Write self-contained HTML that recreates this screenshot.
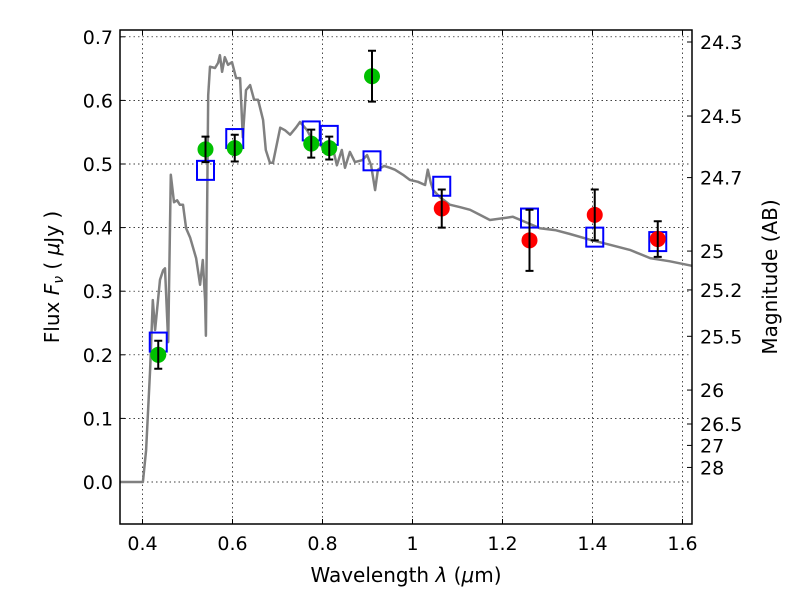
<!DOCTYPE html>
<html><head><meta charset="utf-8"><style>
body{margin:0;background:#fff}
svg{font-family:"DejaVu Sans","Liberation Sans",sans-serif}
</style></head><body>
<svg id="c" width="800" height="600" xmlns="http://www.w3.org/2000/svg"></svg>
<script>
const specLam=[0.35,0.401,0.408,0.417,0.423,0.428,0.439,0.446,0.450,0.457,0.463,0.470,0.477,0.483,0.490,0.497,0.506,0.519,0.528,0.534,0.539,0.541,0.546,0.550,0.561,0.568,0.572,0.577,0.583,0.590,0.599,0.608,0.617,0.623,0.630,0.639,0.648,0.657,0.668,0.674,0.683,0.690,0.706,0.717,0.728,0.741,0.750,0.766,0.777,0.794,0.808,0.823,0.832,0.843,0.850,0.861,0.872,0.888,0.899,0.908,0.917,0.923,0.937,0.950,0.961,0.979,0.994,1.012,1.028,1.034,1.041,1.046,1.061,1.083,1.106,1.128,1.150,1.172,1.223,1.250,1.283,1.317,1.350,1.394,1.439,1.483,1.528,1.572,1.621];
const specFlux=[0,0,0.05,0.176,0.286,0.239,0.318,0.333,0.336,0.220,0.483,0.440,0.443,0.436,0.436,0.399,0.384,0.352,0.310,0.349,0.286,0.230,0.608,0.653,0.651,0.659,0.671,0.645,0.668,0.656,0.660,0.635,0.635,0.542,0.616,0.624,0.601,0.601,0.569,0.522,0.502,0.502,0.557,0.553,0.546,0.557,0.566,0.553,0.538,0.530,0.522,0.525,0.498,0.522,0.494,0.519,0.503,0.506,0.514,0.498,0.459,0.491,0.497,0.494,0.491,0.483,0.475,0.472,0.467,0.491,0.470,0.459,0.448,0.436,0.432,0.428,0.420,0.412,0.417,0.409,0.399,0.396,0.390,0.381,0.373,0.365,0.352,0.347,0.340];
const greenLam=[0.435,0.54,0.605,0.775,0.815,0.91];
const greenFlux=[0.200,0.523,0.525,0.532,0.525,0.638];
const greenErr=[0.022,0.020,0.021,0.022,0.018,0.040];
const redLam=[1.065,1.26,1.405,1.545];
const redFlux=[0.430,0.380,0.420,0.382];
const redErr=[0.030,0.048,0.040,0.028];
const boxLam=[0.435,0.54,0.605,0.775,0.815,0.91,1.065,1.26,1.405,1.545];
const boxFlux=[0.220,0.490,0.540,0.552,0.545,0.505,0.465,0.415,0.385,0.378];
const xTicks=[0.4,0.6,0.8,1.0,1.2,1.4,1.6];
const xTickLabels=["0.4","0.6","0.8","1","1.2","1.4","1.6"];
const yTicks=[0,0.1,0.2,0.3,0.4,0.5,0.6,0.7];
const yTickLabels=["0.0","0.1","0.2","0.3","0.4","0.5","0.6","0.7"];
const magTicks=[24.3,24.5,24.7,25,25.2,25.5,26,26.5,27,28];
const magLabels=["24.3","24.5","24.7","25","25.2","25.5","26","26.5","27","28"];

const L=120,R=692,T=30,B=524;
const X=l=>142.5+(l-0.4)*450;
const Y=f=>482-f*636;
const svg=document.getElementById('c');
const NS="http://www.w3.org/2000/svg";
function mk(t,a,p){const e=document.createElementNS(NS,t);for(const k in a)e.setAttribute(k,a[k]);(p||svg).appendChild(e);return e;}

const grid=mk('g',{});


xTicks.forEach((v,i)=>{
  const x=X(v);
  const g=mk('line',{x1:x,x2:x,y1:T,y2:B,stroke:'#000','stroke-width':0.7,'stroke-dasharray':'1.5,3'},grid);
  
  
  mk('line',{x1:x,x2:x,y1:B,y2:B-5,stroke:'#000'});
  mk('line',{x1:x,x2:x,y1:T,y2:T+5,stroke:'#000'});
  const t=mk('text',{x:x,y:B+26,'font-size':19,'text-anchor':'middle'});
  t.textContent=xTickLabels[i];
  
  
});
yTicks.forEach((v,i)=>{
  const y=Y(v);
  const g=mk('line',{x1:L,x2:R,y1:y,y2:y,stroke:'#000','stroke-width':0.7,'stroke-dasharray':'1.5,3'},grid);
  
  
  mk('line',{x1:L,x2:L+5,y1:y,y2:y,stroke:'#000'});
  const t=mk('text',{x:L-7,y:y+7,'font-size':19,'text-anchor':'end'});
  t.textContent=yTickLabels[i];
  
  
});
magTicks.forEach((m,i)=>{
  const y=Y(Math.pow(10,(23.9-m)/2.5));
  mk('line',{x1:R-5,x2:R,y1:y,y2:y,stroke:'#000'});
  const t=mk('text',{x:R+8,y:y+7,'font-size':19});
  t.textContent=magLabels[i];
  
  
});

let d='';
specLam.forEach((l,i)=>{d+=(i?'L':'M')+X(l).toFixed(1)+','+Y(specFlux[i]).toFixed(1);});
const sp=mk('path',{d:d,fill:'none',stroke:'#808080','stroke-width':2.5,'stroke-linejoin':'round'});



boxLam.forEach((l,i)=>{
  const b=mk('rect',{x:X(l)-8.5,y:Y(boxFlux[i])-9.5,width:17,height:19,fill:'none',stroke:'#0000ff','stroke-width':2});
  
  
});
function pts(lams,fl,er,col,name){
  lams.forEach((l,i)=>{
    const x=X(l);
    const c=mk('circle',{cx:x,cy:Y(fl[i]),r:8,fill:col});
    
    
    const y1=Y(fl[i]+er[i]),y2=Y(fl[i]-er[i]);
    const e=mk('path',{d:`M${x},${y1}L${x},${y2}M${x-4},${y1}L${x+4},${y1}M${x-4},${y2}L${x+4},${y2}`,stroke:'#000','stroke-width':2,fill:'none'});
    
    
  });
}
pts(greenLam,greenFlux,greenErr,'#00c000','optical-data-point');
pts(redLam,redFlux,redErr,'#ff0000','nir-data-point');

const fr=mk('rect',{x:L,y:T,width:R-L,height:B-T,fill:'none',stroke:'#000','stroke-width':1.5});



const xl=mk('text',{x:406,y:582,'font-size':20,'text-anchor':'middle'});
xl.innerHTML='Wavelength  <tspan font-style="italic">λ</tspan> (<tspan font-style="italic">μ</tspan>m)';


const yl=mk('text',{x:0,y:0,'font-size':20,'text-anchor':'middle',transform:'translate(59,277) rotate(-90)'});
yl.innerHTML='Flux  <tspan font-style="italic">F</tspan><tspan font-style="italic" font-size="14" dy="4">ν</tspan><tspan dy="-4">  ( </tspan><tspan font-style="italic">μ</tspan>Jy )';


const ml=mk('text',{x:0,y:0,'font-size':20,'text-anchor':'middle',transform:'translate(777,277) rotate(-90)'});
ml.textContent='Magnitude (AB)';


</script>
</body></html>
